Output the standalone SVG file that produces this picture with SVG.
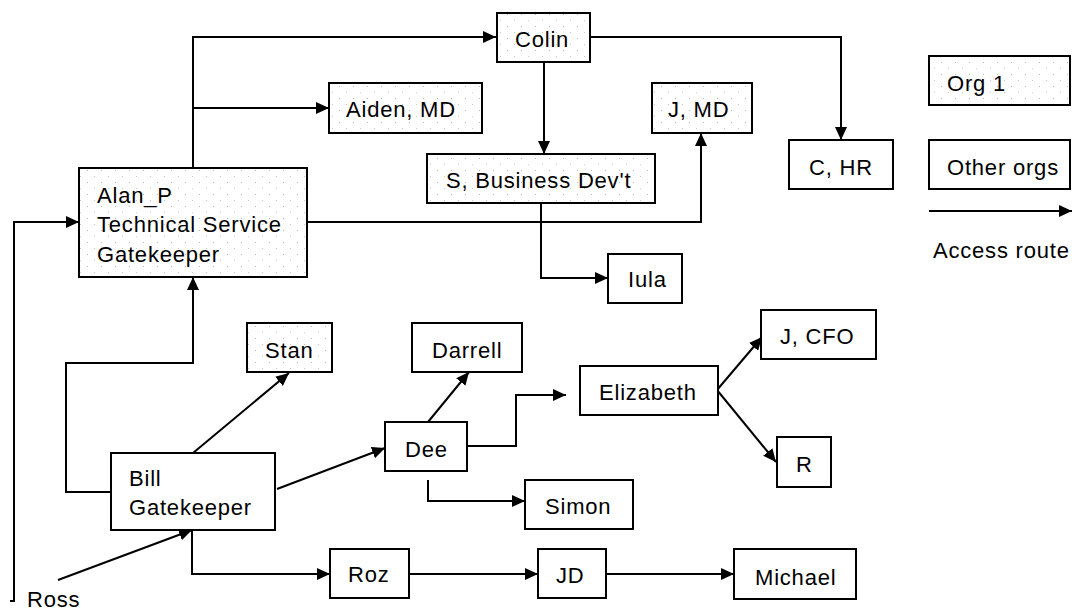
<svg xmlns="http://www.w3.org/2000/svg" width="1072" height="612" viewBox="0 0 1072 612">
  <style>
    .box { fill: #ffffff; stroke: #000000; stroke-width: 2; }
    .org1 { fill: url(#stipple); }
    .lbl { font-family: "Liberation Sans", Arial, sans-serif; font-size: 22px; letter-spacing: 0.8px; fill: #000000; }
    .wire { fill: none; stroke: #000000; stroke-width: 2; marker-end: url(#arrow); }
  </style>
  <defs>
    <marker id="arrow" markerUnits="userSpaceOnUse" markerWidth="14" markerHeight="12" refX="13" refY="6" orient="auto">
      <path d="M0,0 L13,6 L0,12 Z" fill="#000000"/>
    </marker>
    <!-- sparse grey dots marking members of Org 1 -->
    <pattern id="stipple" patternUnits="userSpaceOnUse" width="14" height="12">
      <rect width="14" height="12" fill="#ffffff"/>
      <rect x="3" y="2" width="1" height="1" fill="#b8b8b8"/>
      <rect x="10" y="8" width="1" height="1" fill="#c8c8c8"/>
    </pattern>
  </defs>

  <rect width="1072" height="612" fill="#ffffff"/>

  <!-- access routes -->
  <g id="connectors">
    <path class="wire" d="M193,168 V37 H496"/>
    <path class="wire" d="M193,108 H329"/>
    <path class="wire" d="M307,222 H701 V133"/>
    <path class="wire" d="M590,37 H841 V140"/>
    <path class="wire" d="M544,62 V154"/>
    <path class="wire" d="M541,203 V278 H608"/>
    <path class="wire" d="M10,601 H14 V222 H79"/>
    <path class="wire" d="M111,492 H66 V363 H193 V277"/>
    <path class="wire" d="M193,453 L289,373"/>
    <path class="wire" d="M277,489 L385,448"/>
    <path class="wire" d="M58,580 L192,530"/>
    <path class="wire" d="M192,530 V574 H330"/>
    <path class="wire" d="M428,422 L469,372"/>
    <path class="wire" d="M467,446 H516 V395 H566"/>
    <path class="wire" d="M428,480 V501 H525"/>
    <path class="wire" d="M717,390 L762,337"/>
    <path class="wire" d="M717,390 L776,462"/>
    <path class="wire" d="M409,574 H538"/>
    <path class="wire" d="M606,574 H734"/>
  </g>

  <g id="colin">
    <rect class="box org1" x="497" y="13" width="93" height="49"/>
    <text class="lbl" x="515" y="47">Colin</text>
  </g>
  <g id="aiden">
    <rect class="box org1" x="329" y="83" width="153" height="50"/>
    <text class="lbl" x="346" y="117">Aiden, MD</text>
  </g>
  <g id="j-md">
    <rect class="box org1" x="652" y="83" width="100" height="50"/>
    <text class="lbl" x="668" y="117">J, MD</text>
  </g>
  <g id="alan-p">
    <rect class="box org1" x="79" y="168" width="228" height="109"/>
    <text class="lbl" x="97" y="203">Alan_P</text>
    <text class="lbl" x="97" y="232">Technical Service</text>
    <text class="lbl" x="97" y="262">Gatekeeper</text>
  </g>
  <g id="s-business">
    <rect class="box org1" x="427" y="154" width="228" height="49"/>
    <text class="lbl" x="446" y="188">S, Business Dev't</text>
  </g>
  <g id="c-hr">
    <rect class="box" x="789" y="140" width="104" height="49"/>
    <text class="lbl" x="809" y="175">C, HR</text>
  </g>
  <g id="iula">
    <rect class="box" x="608" y="254" width="74" height="49"/>
    <text class="lbl" x="628" y="287">Iula</text>
  </g>
  <g id="stan">
    <rect class="box org1" x="247" y="323" width="85" height="49"/>
    <text class="lbl" x="265" y="358">Stan</text>
  </g>
  <g id="darrell">
    <rect class="box" x="412" y="323" width="110" height="49"/>
    <text class="lbl" x="432" y="358">Darrell</text>
  </g>
  <g id="elizabeth">
    <rect class="box" x="580" y="366" width="138" height="49"/>
    <text class="lbl" x="599" y="400">Elizabeth</text>
  </g>
  <g id="j-cfo">
    <rect class="box" x="761" y="310" width="115" height="49"/>
    <text class="lbl" x="780" y="344">J, CFO</text>
  </g>
  <g id="dee">
    <rect class="box" x="385" y="422" width="82" height="49"/>
    <text class="lbl" x="405" y="457">Dee</text>
  </g>
  <g id="r">
    <rect class="box" x="777" y="437" width="54" height="50"/>
    <text class="lbl" x="796" y="472">R</text>
  </g>
  <g id="bill">
    <rect class="box" x="111" y="453" width="164" height="77"/>
    <text class="lbl" x="129" y="486">Bill</text>
    <text class="lbl" x="129" y="515">Gatekeeper</text>
  </g>
  <g id="simon">
    <rect class="box" x="525" y="480" width="108" height="49"/>
    <text class="lbl" x="545" y="514">Simon</text>
  </g>
  <g id="roz">
    <rect class="box" x="330" y="549" width="79" height="49"/>
    <text class="lbl" x="348" y="582">Roz</text>
  </g>
  <g id="jd">
    <rect class="box" x="538" y="549" width="68" height="49"/>
    <text class="lbl" x="556" y="583">JD</text>
  </g>
  <g id="michael">
    <rect class="box" x="734" y="549" width="122" height="50"/>
    <text class="lbl" x="755" y="585">Michael</text>
  </g>
  <g id="ross">
    <text class="lbl" x="27" y="607">Ross</text>
  </g>

  <!-- key -->
  <g id="legend">
    <rect class="box org1" x="929" y="56" width="141" height="49"/>
    <text class="lbl" x="947" y="91">Org 1</text>
    <rect class="box" x="929" y="140" width="141" height="49"/>
    <text class="lbl" x="947" y="175">Other orgs</text>
    <path class="wire" d="M929,211 H1072"/>
    <text class="lbl" x="933" y="258">Access route</text>
  </g>
</svg>
